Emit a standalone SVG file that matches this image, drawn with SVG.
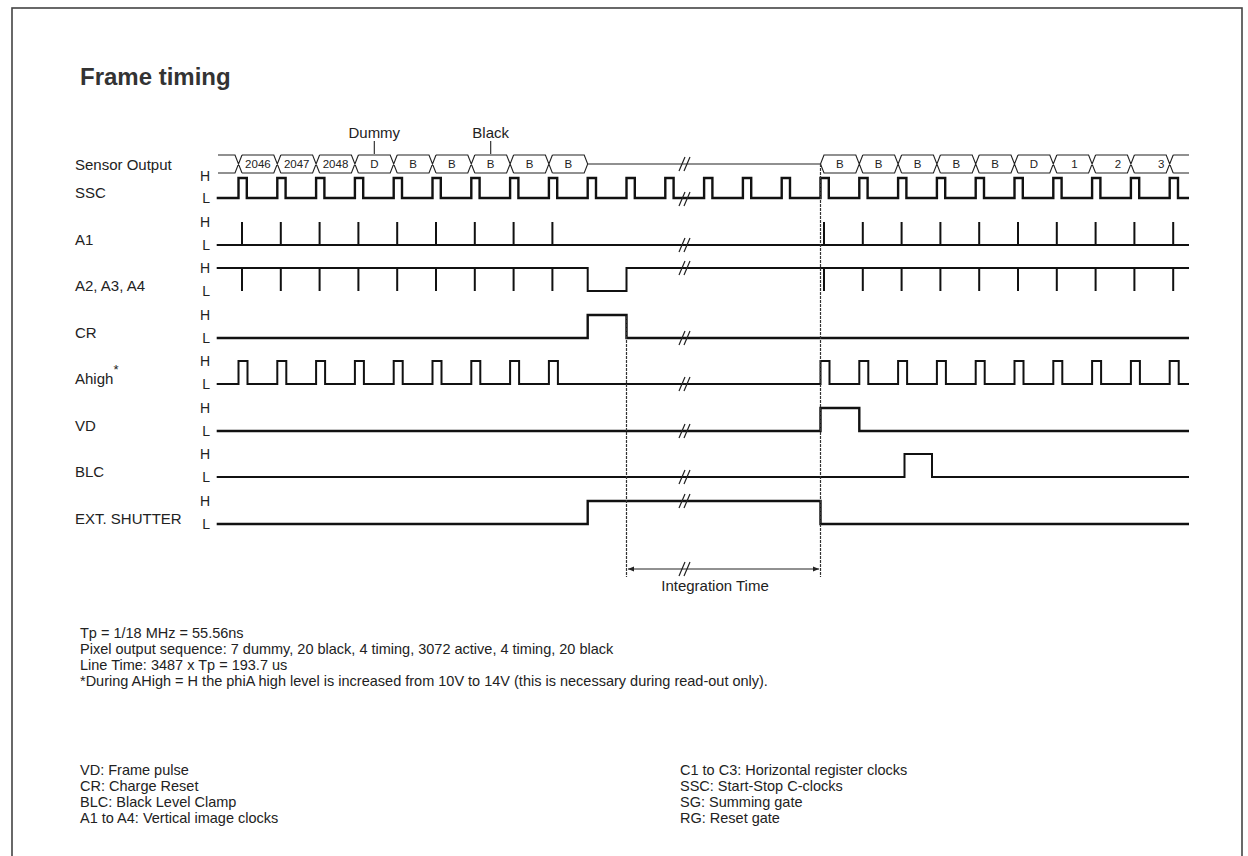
<svg xmlns="http://www.w3.org/2000/svg" width="1248" height="856" viewBox="0 0 1248 856">
<defs>
<style>
text{font-family:"Liberation Sans",Arial,sans-serif;fill:#222}
.lbl{font-size:15px}
.hl{font-size:14px;text-anchor:end}
.cell{font-size:11.5px;text-anchor:middle}
.note{font-size:14.5px}
.sig{fill:none;stroke:#111;stroke-width:2.4;stroke-linejoin:miter}
.thin{stroke-width:2}
.bus{fill:none;stroke:#222;stroke-width:1.1}
.brk{stroke:#222;stroke-width:1.2;fill:none}
.dash{stroke:#333;stroke-width:1.2;stroke-dasharray:3 1;fill:none}
</style>
<marker id="arr" viewBox="0 0 10 10" refX="10" refY="5" markerWidth="9" markerHeight="6" orient="auto-start-reverse" markerUnits="userSpaceOnUse">
<path d="M0,1 L10,5 L0,9 z" fill="#222"/>
</marker>
</defs>
<rect x="12" y="8" width="1230" height="880" fill="#fff" stroke="#444" stroke-width="1.6"/>
<text x="80" y="85" style="font-size:24px;font-weight:bold;fill:#333">Frame timing</text>

<g id="labels">
<text class="lbl" x="75" y="170">Sensor Output</text>
<text class="lbl" x="75" y="198">SSC</text>
<text class="lbl" x="75" y="245">A1</text>
<text class="lbl" x="75" y="291">A2, A3, A4</text>
<text class="lbl" x="75" y="338">CR</text>
<text class="lbl" x="75" y="384">Ahigh<tspan dy="-10" style="font-size:13px">*</tspan></text>
<text class="lbl" x="75" y="431">VD</text>
<text class="lbl" x="75" y="477">BLC</text>
<text class="lbl" x="75" y="524">EXT. SHUTTER</text>
</g>

<g id="hl-labels">
<text class="hl" x="210" y="181">H</text><text class="hl" x="210" y="203">L</text>
<text class="hl" x="210" y="227">H</text><text class="hl" x="210" y="250">L</text>
<text class="hl" x="210" y="273">H</text><text class="hl" x="210" y="296">L</text>
<text class="hl" x="210" y="320">H</text><text class="hl" x="210" y="343">L</text>
<text class="hl" x="210" y="366">H</text><text class="hl" x="210" y="389">L</text>
<text class="hl" x="210" y="413">H</text><text class="hl" x="210" y="436">L</text>
<text class="hl" x="210" y="459">H</text><text class="hl" x="210" y="482">L</text>
<text class="hl" x="210" y="506">H</text><text class="hl" x="210" y="529">L</text>
</g>

<g id="sensor-output">
<text class="lbl" x="374.3" y="138" text-anchor="middle">Dummy</text>
<text class="lbl" x="490.7" y="138" text-anchor="middle">Black</text>
<line x1="374.3" y1="141" x2="374.3" y2="154" class="bus"/>
<line x1="490.7" y1="141" x2="490.7" y2="154" class="bus"/>
<path class="bus" d="M218,155 H235 L242,173 M218,173 H235 L242,155
M242,155 H273.8 L280.8,173 M242,173 H273.8 L280.8,155
M280.8,155 H312.6 L319.6,173 M280.8,173 H312.6 L319.6,155
M319.6,155 H351.4 L358.4,173 M319.6,173 H351.4 L358.4,155
M358.4,155 H390.2 L397.2,173 M358.4,173 H390.2 L397.2,155
M397.2,155 H429 L436,173 M397.2,173 H429 L436,155
M436,155 H467.8 L474.8,173 M436,173 H467.8 L474.8,155
M474.8,155 H506.6 L513.6,173 M474.8,173 H506.6 L513.6,155
M513.6,155 H545.4 L552.4,173 M513.6,173 H545.4 L552.4,155
M552.4,155 H584.2 L587.7,164 L584.2,173 H552.4
M587.7,164 H820.5
M820.5,164 L824,155 H855.8 L862.8,173 M820.5,164 L824,173 H855.8 L862.8,155
M862.8,155 H894.6 L901.6,173 M862.8,173 H894.6 L901.6,155
M901.6,155 H933.4 L940.4,173 M901.6,173 H933.4 L940.4,155
M940.4,155 H972.2 L979.2,173 M940.4,173 H972.2 L979.2,155
M979.2,155 H1011 L1018,173 M979.2,173 H1011 L1018,155
M1018,155 H1049.8 L1056.8,173 M1018,173 H1049.8 L1056.8,155
M1056.8,155 H1088.6 L1095.6,173 M1056.8,173 H1088.6 L1095.6,155
M1095.6,155 H1127.4 L1134.4,173 M1095.6,173 H1127.4 L1134.4,155
M1134.4,155 H1166.2 L1173.2,173 M1134.4,173 H1166.2 L1173.2,155
M1173.2,155 H1189 M1173.2,173 H1189"/>
<text class="cell" x="257.9" y="168">2046</text>
<text class="cell" x="296.7" y="168">2047</text>
<text class="cell" x="335.5" y="168">2048</text>
<text class="cell" x="374.3" y="168">D</text>
<text class="cell" x="413.1" y="168">B</text>
<text class="cell" x="451.9" y="168">B</text>
<text class="cell" x="490.7" y="168">B</text>
<text class="cell" x="529.5" y="168">B</text>
<text class="cell" x="568.3" y="168">B</text>
<text class="cell" x="839.9" y="168">B</text>
<text class="cell" x="878.7" y="168">B</text>
<text class="cell" x="917.5" y="168">B</text>
<text class="cell" x="956.3" y="168">B</text>
<text class="cell" x="995.1" y="168">B</text>
<text class="cell" x="1033.9" y="168">D</text>
<text class="cell" x="1074.4" y="168">1</text>
<text class="cell" x="1117.9" y="168">2</text>
<text class="cell" x="1161.3" y="168">3</text>
</g>

<g id="ssc">
<path class="sig" d="M216.7,198 H238.5 v-20 h8.3 v20 H277.3 v-20 h8.3 v20 H316.1 v-20 h8.3 v20 H354.9 v-20 h8.3 v20 H393.7 v-20 h8.3 v20 H432.5 v-20 h8.3 v20 H471.3 v-20 h8.3 v20 H510.1 v-20 h8.3 v20 H548.9 v-20 h8.3 v20 H587.7 v-20 h8.3 v20 H626.5 v-20 h8.3 v20 H665.3 v-20 h8.3 v20 H704.1 v-20 h8.3 v20 H742.9 v-20 h8.3 v20 H781.7 v-20 h8.3 v20 H820.5 v-20 h8.3 v20 H859.3 v-20 h8.3 v20 H898.1 v-20 h8.3 v20 H936.9 v-20 h8.3 v20 H975.7 v-20 h8.3 v20 H1014.5 v-20 h8.3 v20 H1053.3 v-20 h8.3 v20 H1092.1 v-20 h8.3 v20 H1130.9 v-20 h8.3 v20 H1169.7 v-20 h8.3 v20 H1189"/>
</g>

<g id="a1">
<path class="sig thin" d="M216.7,245 H1189 M242,245 V222 M280.8,245 V222 M319.6,245 V222 M358.4,245 V222 M397.2,245 V222 M436,245 V222 M474.8,245 V222 M513.6,245 V222 M552.4,245 V222 M824,245 V222 M862.8,245 V222 M901.6,245 V222 M940.4,245 V222 M979.2,245 V222 M1018,245 V222 M1056.8,245 V222 M1095.6,245 V222 M1134.4,245 V222 M1173.2,245 V222"/>
</g>

<g id="a2">
<path class="sig thin" d="M216.7,268 H587.7 V291 H626.5 V268 H1189 M242,268 V291 M280.8,268 V291 M319.6,268 V291 M358.4,268 V291 M397.2,268 V291 M436,268 V291 M474.8,268 V291 M513.6,268 V291 M552.4,268 V291 M824,268 V291 M862.8,268 V291 M901.6,268 V291 M940.4,268 V291 M979.2,268 V291 M1018,268 V291 M1056.8,268 V291 M1095.6,268 V291 M1134.4,268 V291 M1173.2,268 V291"/>
</g>

<g id="cr">
<path class="sig" d="M216.7,338 H587.7 V315 H626.5 V338 H1189"/>
</g>

<g id="ahigh">
<path class="sig thin" d="M216.7,384 H238.5 v-23 h9 v23 H277.3 v-23 h9 v23 H316.1 v-23 h9 v23 H354.9 v-23 h9 v23 H393.7 v-23 h9 v23 H432.5 v-23 h9 v23 H471.3 v-23 h9 v23 H510.1 v-23 h9 v23 H548.9 v-23 h9 v23 H820.5 v-23 h9 v23 H859.3 v-23 h9 v23 H898.1 v-23 h9 v23 H936.9 v-23 h9 v23 H975.7 v-23 h9 v23 H1014.5 v-23 h9 v23 H1053.3 v-23 h9 v23 H1092.1 v-23 h9 v23 H1130.9 v-23 h9 v23 H1169.7 v-23 h9 v23 H1189"/>
</g>

<g id="vd">
<path class="sig" d="M216.7,431 H820.5 V408 H859.3 V431 H1189"/>
</g>

<g id="blc">
<path class="sig thin" d="M216.7,477 H904.5 V454 H932 V477 H1189"/>
</g>

<g id="ext-shutter">
<path class="sig" d="M216.7,524 H587.7 V501 H820.5 V524 H1189"/>
</g>

<g id="connectors">
<line class="dash" x1="626.5" y1="316" x2="626.5" y2="577"/>
<line class="dash" x1="820.5" y1="164" x2="820.5" y2="577"/>
<line x1="628" y1="569" x2="819" y2="569" stroke="#222" stroke-width="1" marker-start="url(#arr)" marker-end="url(#arr)"/>
<path class="brk" d="M679,171 L685,157 M684,171 L690,157
M679,206 L685,192 M684,206 L690,192
M679,252 L685,238 M684,252 L690,238
M679,275 L685,261 M684,275 L690,261
M679,345 L685,331 M684,345 L690,331
M679,391 L685,377 M684,391 L690,377
M679,438 L685,424 M684,438 L690,424
M679,484 L685,470 M684,484 L690,470
M679,508 L685,494 M684,508 L690,494
M679,576 L685,562 M684,576 L690,562"/>
</g>
<text class="lbl" x="715" y="591" text-anchor="middle">Integration Time</text>

<g id="notes">
<text class="note" x="80" y="638">Tp = 1/18 MHz = 55.56ns</text>
<text class="note" x="80" y="654">Pixel output sequence: 7 dummy, 20 black, 4 timing, 3072 active, 4 timing, 20 black</text>
<text class="note" x="80" y="670">Line Time: 3487 x Tp = 193.7 us</text>
<text class="note" x="80" y="686">*During AHigh = H the phiA high level is increased from 10V to 14V (this is necessary during read-out only).</text>
<text class="note" x="80" y="775">VD: Frame pulse</text>
<text class="note" x="80" y="791">CR: Charge Reset</text>
<text class="note" x="80" y="807">BLC: Black Level Clamp</text>
<text class="note" x="80" y="823">A1 to A4: Vertical image clocks</text>
<text class="note" x="680" y="775">C1 to C3: Horizontal register clocks</text>
<text class="note" x="680" y="791">SSC: Start-Stop C-clocks</text>
<text class="note" x="680" y="807">SG: Summing gate</text>
<text class="note" x="680" y="823">RG: Reset gate</text>
</g>
</svg>
